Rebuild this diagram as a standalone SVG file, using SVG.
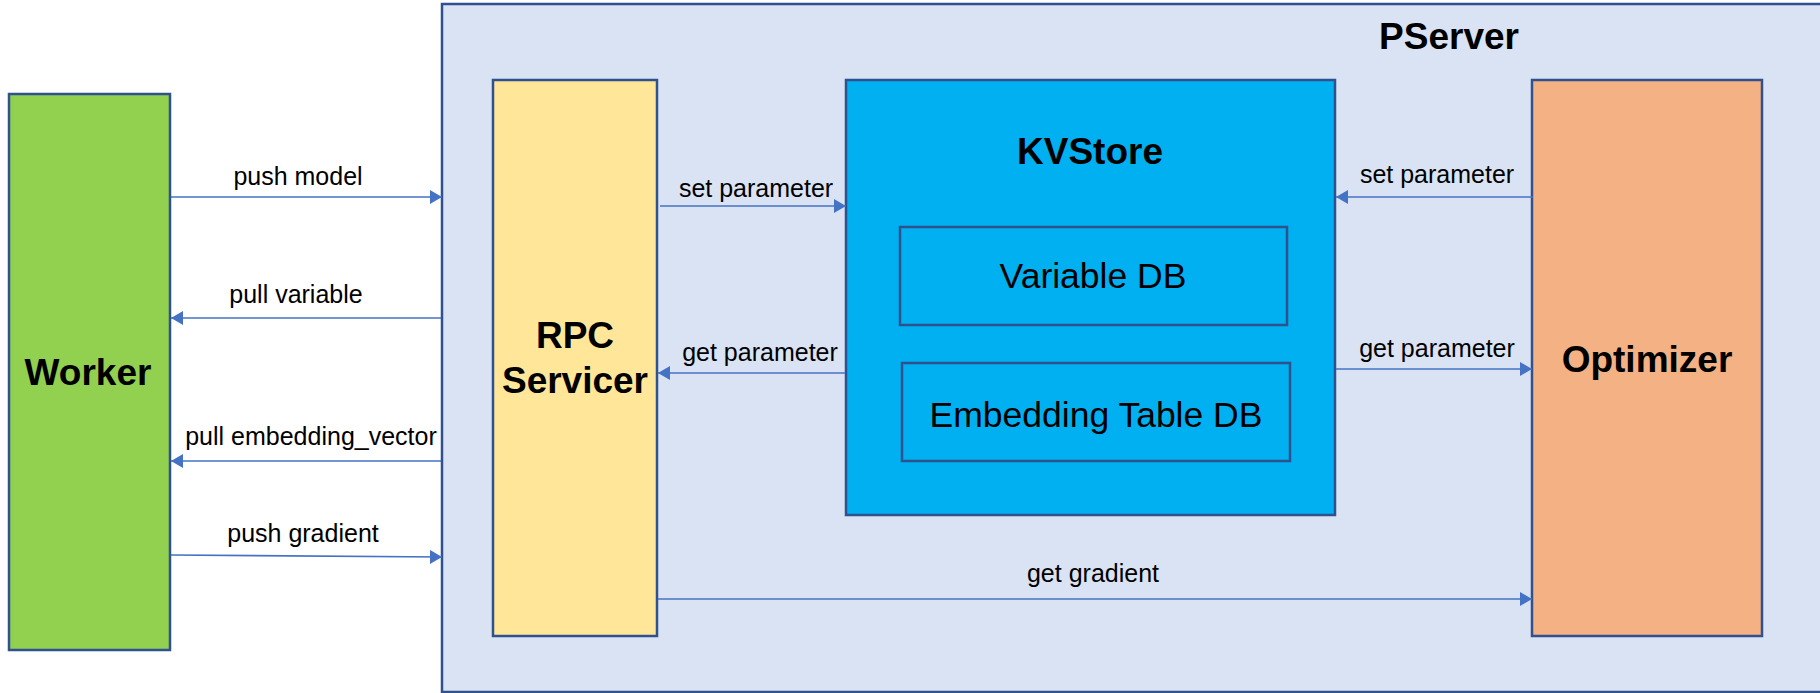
<svg xmlns="http://www.w3.org/2000/svg" width="1820" height="693" viewBox="0 0 1820 693">
<style>
.box{stroke:#2F528F;stroke-width:2.5}
.title{font-family:"Liberation Sans",Arial,sans-serif;font-weight:bold;font-size:37px;fill:#000;text-anchor:middle}
.db{font-family:"Liberation Sans",Arial,sans-serif;font-size:35.5px;fill:#000;text-anchor:middle}
.lbl{font-family:"Liberation Sans",Arial,sans-serif;font-size:25px;fill:#000;text-anchor:middle}
.conn{stroke:#4472C4;stroke-width:1.6;fill:none;marker-end:url(#ah)}
</style>
<defs>
<marker id="ah" markerUnits="userSpaceOnUse" markerWidth="13" markerHeight="14" refX="12" refY="7" orient="auto">
<path d="M0,0 L12,7 L0,14 Z" fill="#4472C4"/>
</marker>
</defs>
<rect width="1820" height="693" fill="#fff"/>
<g id="pserver">
<rect class="box" x="442" y="4" width="1390" height="688" fill="#DAE3F3"/>
<text class="title" x="1449" y="49" font-size="38">PServer</text>
</g>
<g id="worker">
<rect class="box" x="9" y="94" width="161" height="556" fill="#92D050"/>
<text class="title" x="88" y="385">Worker</text>
</g>
<g id="rpc">
<rect class="box" x="493" y="80" width="164" height="556" fill="#FFE699"/>
<text class="title" x="575" y="348">RPC</text>
<text class="title" x="575" y="393">Servicer</text>
</g>
<g id="kvstore">
<rect class="box" x="846" y="80" width="489" height="435" fill="#00B0F0"/>
<text class="title" x="1090" y="164">KVStore</text>
</g>
<g id="variabledb">
<rect class="box" x="900" y="227" width="387" height="98" fill="#00B0F0"/>
<text class="db" x="1093" y="288">Variable DB</text>
</g>
<g id="embeddingdb">
<rect class="box" x="902" y="363" width="388" height="98" fill="#00B0F0"/>
<text class="db" x="1096" y="427">Embedding Table DB</text>
</g>
<g id="optimizer">
<rect class="box" x="1532" y="80" width="230" height="556" fill="#F4B183"/>
<text class="title" x="1647" y="372">Optimizer</text>
</g>
<g id="connectors">
<line class="conn" x1="171" y1="197" x2="442" y2="197"/>
<line class="conn" x1="441" y1="318" x2="171" y2="318"/>
<line class="conn" x1="441" y1="461" x2="171" y2="461"/>
<line class="conn" x1="171" y1="555" x2="442" y2="557"/>
<line class="conn" x1="660" y1="206" x2="846" y2="206"/>
<line class="conn" x1="845" y1="373" x2="658" y2="373"/>
<line class="conn" x1="658" y1="599" x2="1532" y2="599"/>
<line class="conn" x1="1533" y1="197" x2="1336" y2="197"/>
<line class="conn" x1="1336" y1="369" x2="1532" y2="369"/>
</g>
<g id="labels">
<text class="lbl" x="298" y="185">push model</text>
<text class="lbl" x="296" y="303">pull variable</text>
<text class="lbl" x="311" y="445">pull embedding_vector</text>
<text class="lbl" x="303" y="542">push gradient</text>
<text class="lbl" x="756" y="197">set parameter</text>
<text class="lbl" x="760" y="361">get parameter</text>
<text class="lbl" x="1093" y="582">get gradient</text>
<text class="lbl" x="1437" y="183">set parameter</text>
<text class="lbl" x="1437" y="357">get parameter</text>
</g>
</svg>
